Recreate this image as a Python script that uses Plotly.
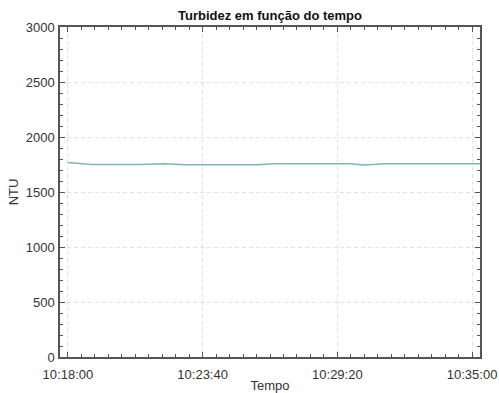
import plotly.graph_objects as go

# Turbidity readings over the sampling period
times = [
    "2024-01-01 10:18:00", "2024-01-01 10:19:00", "2024-01-01 10:21:00",
    "2024-01-01 10:22:00", "2024-01-01 10:23:00", "2024-01-01 10:26:00",
    "2024-01-01 10:26:40", "2024-01-01 10:29:50", "2024-01-01 10:30:30",
    "2024-01-01 10:31:20", "2024-01-01 10:35:20",
]
ntu = [1768, 1750, 1750, 1757, 1748, 1748, 1757, 1757, 1745, 1757, 1757]

x_ticks = ["2024-01-01 10:18:00", "2024-01-01 10:23:40",
           "2024-01-01 10:29:20", "2024-01-01 10:35:00"]
x_tick_text = ["10:18:00", "10:23:40", "10:29:20", "10:35:00"]
y_ticks = [0, 500, 1000, 1500, 2000, 2500, 3000]

axis_color = "#555555"
font_family = "Liberation Sans, Arial, sans-serif"

fig = go.Figure()
fig.add_trace(go.Scatter(
    x=times, y=ntu, mode="lines",
    line=dict(color="#82b2c0", width=1.5),
    showlegend=False,
))

common = dict(
    showline=True, linecolor=axis_color, linewidth=1.5, mirror="ticks",
    ticks="inside", ticklen=5, tickcolor=axis_color, tickwidth=1,
    showgrid=True, gridcolor="#e2e2e2", griddash="4px,3px", gridwidth=1,
    zeroline=False, automargin=False,
    tickfont=dict(size=13, color="#333333", family=font_family),
)

fig.update_xaxes(
    type="date",
    range=["2024-01-01 10:17:40", "2024-01-01 10:35:20"],
    tickvals=x_ticks, ticktext=x_tick_text,
    ticklabelstandoff=5,
    minor=dict(ticks="inside", ticklen=3, tickcolor=axis_color,
               dtick=34000, tick0="2024-01-01 10:18:00", showgrid=False),
    title=dict(text="Tempo", standoff=2,
               font=dict(size=13, color="#333333", family=font_family)),
    **common,
)
fig.update_yaxes(
    range=[0, 3000], tickvals=y_ticks,
    ticklabelstandoff=1,
    minor=dict(ticks="inside", ticklen=3, tickcolor=axis_color,
               dtick=100, showgrid=False),
    title=dict(text="NTU", standoff=4,
               font=dict(size=13, color="#333333", family=font_family)),
    **common,
)

fig.update_layout(
    width=499, height=393,
    margin=dict(l=60, r=19, t=27, b=36),
    paper_bgcolor="white", plot_bgcolor="white",
    title=dict(text="<b>Turbidez em função do tempo</b>",
               x=0.5, xref="paper", xanchor="center",
               y=1, yref="paper", yanchor="bottom", pad=dict(b=7),
               font=dict(size=13, color="#111111", family=font_family)),
)

fig.write_html("out.html")
